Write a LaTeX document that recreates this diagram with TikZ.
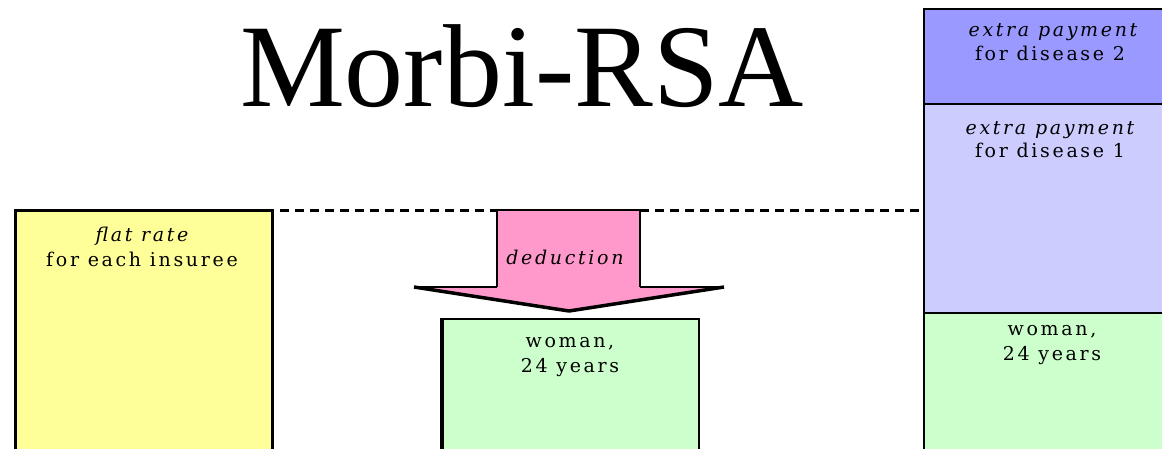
\documentclass[tikz,border=0pt]{standalone}
\usepackage{fontspec}
\setmainfont{Liberation Serif}
\newfontfamily\labfont[LetterSpace=14]{DejaVu Serif}
\definecolor{yel}{HTML}{FFFF99}
\definecolor{pnk}{HTML}{FF99CC}
\definecolor{grn}{HTML}{CCFFCC}
\definecolor{lav}{HTML}{CCCCFF}
\definecolor{blu}{HTML}{9999FF}
\begin{document}
\begin{tikzpicture}[x=1pt,y=-1pt,
  panel/.style={draw=black, rectangle, anchor=north west, inner sep=0pt},
  lbl/.style={font=\labfont\fontsize{19}{19}\selectfont, inner sep=0pt, anchor=base}]
\useasboundingbox (0,0) rectangle (1162,449);
\clip (0,0) rectangle (1162,449);
% title
\node[anchor=base, inner sep=0pt, font=\fontsize{118}{118}\selectfont] (title) at (522,107) {Morbi-RSA};
% dashed reference line
\coordinate (dl1) at (280,211);
\coordinate (dl2) at (497,211);
\coordinate (dl3) at (640,211);
\coordinate (dl4) at (922,211);
\draw[line width=3, dash pattern=on 9pt off 6pt] (dl1) -- (dl2);
\draw[line width=3, dash pattern=on 9pt off 6pt] (dl3) -- (dl4);
% left panel
\node[panel, fill=yel, line width=3, minimum width=257, minimum height=270] (flat) at (14,209) {};
\node[lbl] (flat1) at (142,242) {\itshape flat rate};
\node[lbl] (flat2) at (142,266) {for each insuree};
% arrow
\coordinate (a1) at (497,210);
\coordinate (a2) at (640,210);
\coordinate (a3) at (640,287);
\coordinate (a4) at (724,287);
\coordinate (tip) at (569,311);
\coordinate (a6) at (414,287);
\coordinate (a7) at (497,287);
\fill[pnk] (a1) -- (a2) -- (a3) -- (a4) -- (tip) -- (a6) -- (a7) -- cycle;
\draw[line width=2.5, line join=miter] (a7) -- (a1) -- (a2) -- (a3);
\draw[line width=1.5] (a6) -- (a7);
\draw[line width=1.5] (a3) -- (a4);
\draw[line width=3.5, line join=round] (a6) -- (tip) -- (a4);
\node[lbl] (ded) at (565,264) {\itshape deduction};
% middle panel
\node[panel, fill=grn, line width=2, minimum width=256, minimum height=150] (mid) at (442,318) {};
\draw[line width=3.5] (mid.north west) -- (mid.south west);
\node[lbl] (mid1) at (570,347) {woman,};
\node[lbl] (mid2) at (570,372) {24 years};
% right stack
\node[panel, fill=blu, line width=2, minimum width=260, minimum height=95] (d2) at (923,8) {};
\node[panel, fill=lav, line width=2, minimum width=260, minimum height=209] (d1) at (923,103) {};
\node[panel, fill=grn, line width=2, minimum width=260, minimum height=160] (wr) at (923,312) {};
\node[lbl] (d2a) at (1053,37) {\itshape extra payment};
\node[lbl] (d2b) at (1050,61) {for disease 2};
\node[lbl] (d1a) at (1050,135) {\itshape extra payment};
\node[lbl] (d1b) at (1050,158) {for disease 1};
\node[lbl] (wr1) at (1052,335) {woman,};
\node[lbl] (wr2) at (1052,360) {24 years};
\end{tikzpicture}
\end{document}
